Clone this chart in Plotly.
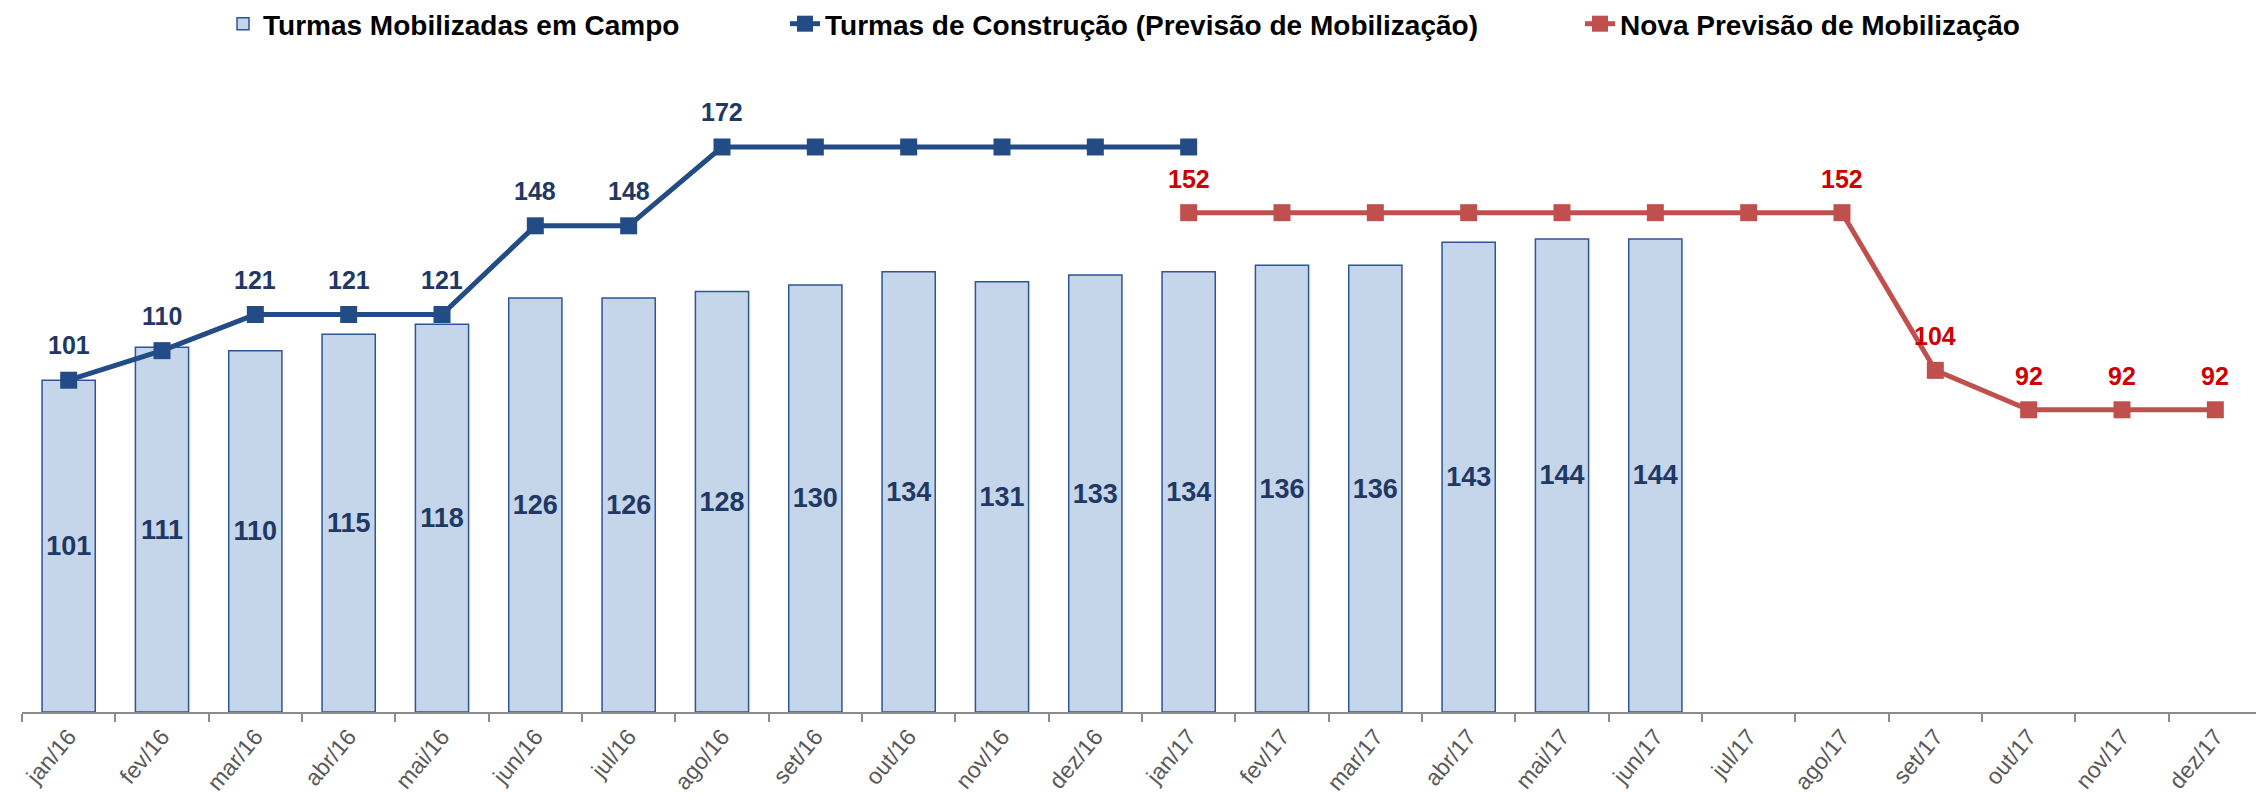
import plotly.graph_objects as go

months = ["jan/16", "fev/16", "mar/16", "abr/16", "mai/16", "jun/16", "jul/16", "ago/16",
          "set/16", "out/16", "nov/16", "dez/16", "jan/17", "fev/17", "mar/17", "abr/17",
          "mai/17", "jun/17", "jul/17", "ago/17", "set/17", "out/17", "nov/17", "dez/17"]

campo = [101, 111, 110, 115, 118, 126, 126, 128, 130, 134, 131, 133, 134, 136, 136, 143, 144, 144]
previsao = [101, 110, 121, 121, 121, 148, 148, 172, 172, 172, 172, 172, 172]
nova = [152, 152, 152, 152, 152, 152, 152, 152, 104, 92, 92, 92]

# which points carry a value label
previsao_labeled = [True] * 8 + [False] * 5
nova_labeled = [True, False, False, False, False, False, False, True, True, True, True, True]

BAR_FILL = "#C5D5EA"
BAR_LINE = "#2E5597"
BLUE = "#234B85"
RED = "#C0504D"
BLUE_TXT = "#1F3864"
RED_TXT = "#D00000"
FONT = "Liberation Sans, Arial, sans-serif"

W, H = 2256, 800

x_campo = months[:len(campo)]
x_prev = months[:len(previsao)]
x_nova = months[12:12 + len(nova)]

fig = go.Figure()
fig.add_trace(go.Bar(
    x=x_campo, y=campo, name="Turmas Mobilizadas em Campo", legend="legend",
    marker=dict(color=BAR_FILL, line=dict(color=BAR_LINE, width=1.5)),
    text=[str(v) for v in campo], textposition="inside", insidetextanchor="middle",
    textangle=0,
    textfont=dict(family=FONT, size=27, color=BLUE_TXT, weight="bold"),
))
fig.add_trace(go.Scatter(
    x=x_prev, y=previsao, name="Turmas de Construção (Previsão de Mobilização)",
    legend="legend2", mode="lines+markers",
    line=dict(color=BLUE, width=5),
    marker=dict(symbol="square", size=17, color=BLUE),
    cliponaxis=False,
))
fig.add_trace(go.Scatter(
    x=x_nova, y=nova, name="Nova Previsão de Mobilização",
    legend="legend3", mode="lines+markers",
    line=dict(color=RED, width=5),
    marker=dict(symbol="square", size=17, color=RED),
    cliponaxis=False,
))

annotations = []
for xv, yv, lab in zip(x_prev, previsao, previsao_labeled):
    if lab:
        annotations.append(dict(x=xv, y=yv, text=str(yv), showarrow=False, yshift=35,
                                font=dict(family=FONT, size=25, color=BLUE_TXT, weight="bold")))
for xv, yv, lab in zip(x_nova, nova, nova_labeled):
    if lab:
        annotations.append(dict(x=xv, y=yv, text=str(yv), showarrow=False, yshift=34,
                                font=dict(family=FONT, size=25, color=RED_TXT, weight="bold")))

legend_font = dict(family=FONT, size=28, color="black", weight="bold")


def legend_at(px):
    return dict(orientation="h", x=px / W, xanchor="left", xref="container",
                y=1 - 16 / H, yanchor="middle", yref="container",
                font=legend_font, itemwidth=30, bgcolor="rgba(0,0,0,0)")


fig.update_layout(
    width=W, height=H,
    margin=dict(l=14, r=2, t=47, b=96),
    paper_bgcolor="white", plot_bgcolor="white",
    bargap=0.43,
    annotations=annotations,
    showlegend=True,
    legend=legend_at(215),
    legend2=legend_at(777),
    legend3=legend_at(1572),
    xaxis=dict(categoryorder="array", categoryarray=months, range=[-0.5, 23.5],
               showline=True, linecolor="#8C8C8C", linewidth=2,
               ticks="outside", ticklen=8, tickcolor="#8C8C8C", tickwidth=1.5,
               tickson="boundaries", tickangle=-50,
               tickfont=dict(family=FONT, size=23, color="#595959"),
               showgrid=False, zeroline=False),
    yaxis=dict(range=[0, 200], visible=False, showgrid=False, zeroline=False),
)

fig.write_html("out.html")
